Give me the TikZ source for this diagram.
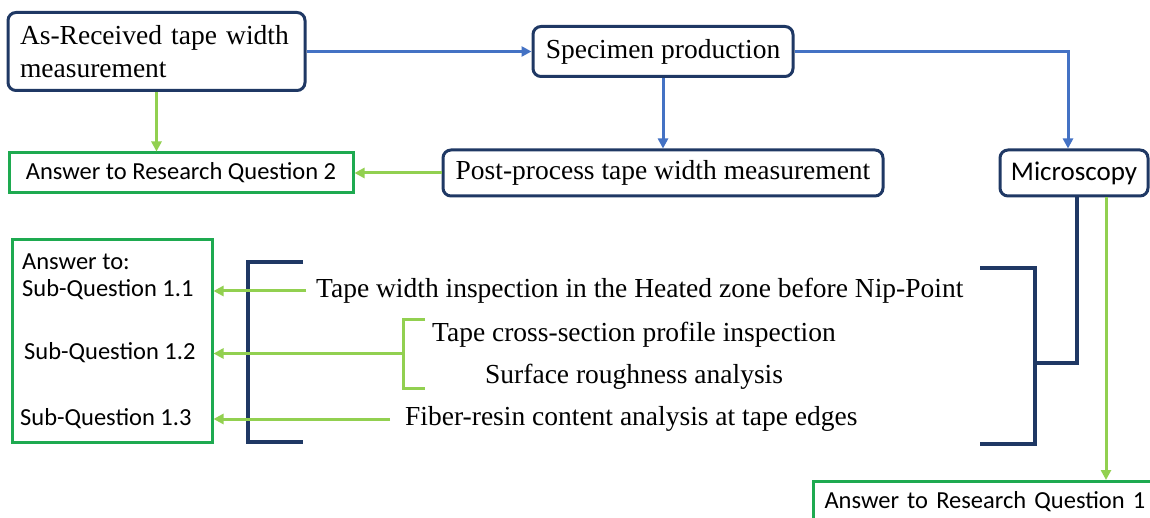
\documentclass[tikz,border=0pt]{standalone}
\usepackage{fontspec}
\setmainfont{Liberation Serif}
\newfontfamily\calibri{Carlito}
\usetikzlibrary{arrows.meta}
\definecolor{navy}{HTML}{1F3864}
\definecolor{flowblue}{HTML}{4472C4}
\definecolor{lime}{HTML}{92D050}
\definecolor{boxgreen}{HTML}{1EAA50}
\tikzset{
    every node/.style={inner sep=0pt, font=\fontsize{27.5}{33}\selectfont}
}
\tikzset{
    procbox/.style={draw=navy, line width=3pt, rounded corners=8pt, fill=white},
    ansbox/.style={draw=boxgreen, line width=3pt},
    sans/.style={font=\calibri\fontsize{24.5}{29}\selectfont}
}
\tikzset{
    blueflow/.style={draw=flowblue, line width=3pt,
    	-{Triangle[length=10pt,width=10pt]}},
    greenflow/.style={draw=lime, line width=3pt,
    	-{Triangle[length=10pt,width=10pt]}},
    bracket/.style={draw=navy, line width=3.5pt},
    gbracket/.style={draw=lime, line width=3pt}
}

\begin{document}
\begin{tikzpicture}[x=1pt,y=-1pt]
	\useasboundingbox (0,0) rectangle (1150,518);
	\clip (0,0) rectangle (1150,518);
	\node (asrec) [procbox, minimum width=297pt, minimum height=78pt,
		text width=273pt, align=left] at (156.5,51.5)
		{As-Received tape width\\measurement};
	\node (spec) [procbox, minimum width=260pt, minimum height=50pt] at (663,51.5)
		{Specimen production};
	\node (post) [procbox, minimum width=440pt, minimum height=46pt] at (663,173)
		{Post-process tape width measurement};
	\node (micro) [procbox, minimum width=148pt, minimum height=46pt,
		font=\calibri\fontsize{27}{32}\selectfont] at (1074,173) {Microscopy};
	\node (rq2) [ansbox, sans, minimum width=344pt, minimum height=40pt] at (181,173)
		{Answer to Research Question 2};
	\node (rq1) [ansbox, sans, anchor=north west, inner xsep=11pt, text width=338pt,
		align=left, minimum height=40pt] at (812,480) {Answer to Research Question 1};
	\node (ansq) [ansbox, minimum width=200pt, minimum height=202pt] at (112,341) {};
	
	\node (sqhead) [sans, anchor=west] at (22,262) {Answer to:};
	\node (sq1) [sans, anchor=west] at (22,290) {Sub-Question 1.1};
	\node (sq2) [sans, anchor=west] at (24,353) {Sub-Question 1.2};
	\node (sq3) [sans, anchor=west] at (20,419) {Sub-Question 1.3};
	
	\node (tw) [anchor=west] at (316,291)
		{Tape width inspection in the Heated zone before Nip-Point};
	\node (cross) [anchor=west] at (432,335) {Tape cross-section profile inspection};
	\node (surf) [anchor=west] at (485,377) {Surface roughness analysis};
	\node (fib) [anchor=west] at (405,419) {Fiber-resin content analysis at tape edges};
	
	% brackets
	\draw[bracket] (303,262) -- (248,262) -- (248,442) -- (303,442);
	\draw[bracket] (980,268) -- (1035,268) -- (1035,444) -- (980,444);
	\draw[gbracket] (425,319) -- (403,319) -- (403,388) -- (425,388);
	\coordinate (rmid) at (1035,363);
	\coordinate (gmid) at (403,353.5);
	
	\draw[blueflow] (asrec.east) -- (spec.west); \draw[blueflow] (spec.south) -- (post.north);
	\draw[blueflow] (spec.east) -| ([xshift=-6pt]micro.north);
	\draw[greenflow] (asrec.south) -- (asrec.south |- rq2.north);
	\draw[greenflow] (post.west) -- (rq2.east);
	\draw[bracket] (rmid) -| ([xshift=3pt]micro.south);
	\draw[greenflow] ([xshift=32pt]micro.south) -- ([xshift=32pt]micro.south |- rq1.north);
	\draw[greenflow] ([xshift=-10pt]tw.west) -- (tw.west -| ansq.east);
	\draw[greenflow] (gmid) -- (gmid -| ansq.east);
	\draw[greenflow] ([xshift=-15pt]fib.west) -- (fib.west -| ansq.east);
\end{tikzpicture}
\end{document}
